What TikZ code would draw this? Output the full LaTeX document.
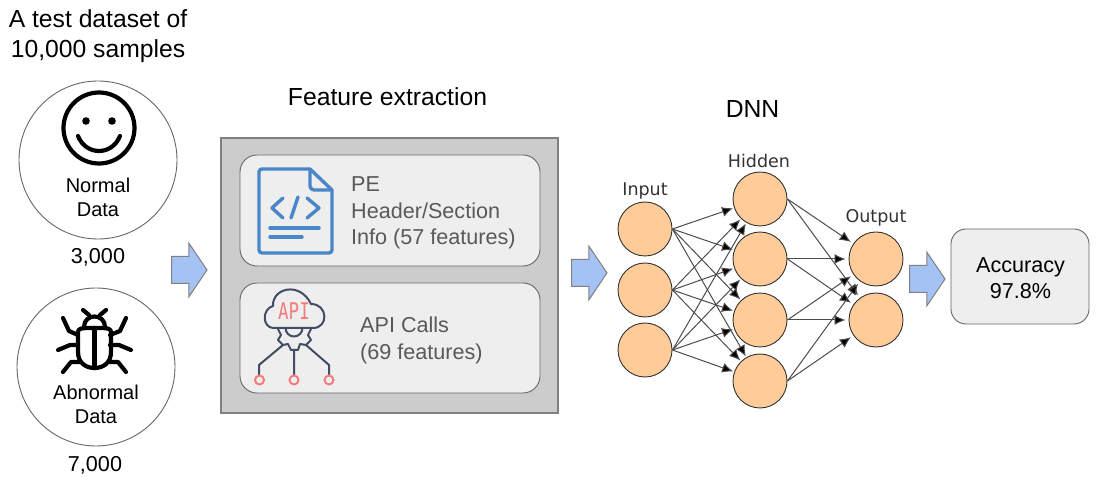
\documentclass[tikz,border=0pt]{standalone}
\usepackage{fontspec}
\setmainfont{Liberation Sans}
\newfontfamily\netfont{DejaVu Sans}
\newfontfamily\apifont{DejaVu Sans Mono}
\usetikzlibrary{arrows.meta,shapes.arrows}
\definecolor{boxgray}{HTML}{CCCCCC}
\definecolor{panelgray}{HTML}{EEEEEE}
\definecolor{textgray}{HTML}{595959}
\definecolor{arrowblue}{HTML}{A4C2F4}
\definecolor{docblue}{HTML}{4A86C8}
\definecolor{apidark}{HTML}{434C66}
\definecolor{apipink}{HTML}{F47C7C}
\definecolor{neuronfill}{HTML}{FFCC99}
\tikzset{
    bigtext/.style={font=\fontsize{24.7}{30}\selectfont, align=center},
    midtext/.style={font=\fontsize{21.6}{26.5}\selectfont, align=center},
    smalltext/.style={font=\fontsize{20}{24}\selectfont, align=center},
    paneltext/.style={font=\fontsize{21.6}{26.5}\selectfont, align=left, text=textgray, anchor=west, inner sep=0pt},
    netlabel/.style={font=\netfont\fontsize{17.5}{20}\selectfont, text=black!80},
    datacircle/.style={circle, draw=black!60, line width=0.9pt, minimum size=158pt, inner sep=0pt},
    panel/.style={draw=black!60, fill=panelgray, line width=0.9pt, rounded corners=17pt, inner sep=0pt},
    blockarrow/.style={single arrow, draw=black!50, fill=arrowblue, line width=1pt, anchor=tail, minimum height=35.5pt, minimum width=53pt,
        single arrow head extend=13.5pt, single arrow tip angle=112, single arrow head indent=0pt, inner sep=0pt},
    neuron/.style={circle, draw=black!80, fill=neuronfill, minimum size=54pt, inner sep=0pt, line width=0.9pt},
    netarrow/.style={-{Latex[length=11pt,width=10pt,fill=black]}, draw=black!70, line width=1pt},
    iconline/.style={line width=4.2pt, line cap=round, line join=round},
    bugline/.style={line width=4.2pt, line cap=round, line join=round},
    docline/.style={docblue, line width=3.4pt, line cap=round, line join=round},
    apiline/.style={apidark, line width=2pt, line cap=round, line join=round},
}
\begin{document}
\begin{tikzpicture}[x=1pt, y=-1pt]
    \useasboundingbox (0,0) rectangle (1096,478);

    % Titles
    \node[bigtext] (title) at (98,36) {A test dataset of\\10,000 samples};
    \node[bigtext] (feattitle) at (387.5,97) {Feature extraction};
    \node[bigtext] (dnntitle) at (752.5,109) {DNN};

    % Data circles
    \node[datacircle] (normal) at (98,160) {};
    \node[datacircle] (abnormal) at (96,367) {};
    \node[smalltext] (normaltext) at (98,197) {Normal\\Data};
    \node[smalltext] (abnormaltext) at (96,404) {Abnormal\\Data};
    \node[midtext] (normalcount) at (98,257.5) {3,000};
    \node[midtext] (abnormalcount) at (95,465.5) {7,000};

    % Smiley
    \draw[iconline] (99,128) circle (35.5);
    \fill (86,121) circle (3.8) (112,121) circle (3.8);
    \draw[iconline] (78,136) .. controls (86,156) and (112,156) .. (120,136);

    % Bug
    \draw[bugline] (78,332) .. controls (78,328) and (82,328) .. (94.5,328)
        .. controls (107,328) and (111,328) .. (111,332) -- (111,352)
        .. controls (111,363) and (103,368) .. (94.5,368) .. controls (86,368) and (78,363) .. (78,352) -- cycle;
    \draw[bugline] (94.5,328) -- (94.5,368);
    \draw[bugline] (84,327) .. controls (84,313) and (105,313) .. (105,327);
    \draw[bugline] (83,310) -- (89,315) (106,310) -- (100,315);
    \draw[bugline] (63,318) -- (69,331) -- (78,335) (126,318) -- (120,331) -- (110,335);
    \draw[bugline] (58,350) -- (70,345) -- (78,345) (131,350) -- (119,345) -- (110,345);
    \draw[bugline] (63,372) -- (71,362) -- (80,362) (126,372) -- (118,362) -- (109,362);

    % Block arrows
    \node[blockarrow] (arrowa) at (171,270) {\rule{0pt}{26pt}};
    \node[blockarrow] (arrowb) at (571,273) {\rule{0pt}{26pt}};
    \node[blockarrow] (arrowc) at (909,279) {\rule{0pt}{26pt}};

    % Feature extraction box
    \draw[draw=black!50, fill=boxgray, line width=1.2pt] (221,138) rectangle (558,413);
    \draw[panel] (240,155) rectangle (540,266);
    \draw[panel] (240,283) rectangle (540,393);
    \node[paneltext] (petext) at (351,213) {PE\\Header/Section\\Info (57 features)};
    \node[paneltext] (apitext) at (360,340.5) {API Calls\\(69 features)};

    % Document icon
    \draw[docline, rounded corners=3pt] (310,169) -- (259,169) -- (259,253) -- (332,253) -- (332,190);
    \draw[docline] (332,190) -- (310,169);
    \draw[docline, rounded corners=4pt] (310,169) -- (310,190) -- (332,190);
    \draw[docline] (283,198) -- (272,208) -- (283,218) (307,198) -- (319,208) -- (307,218);
    \draw[docline] (298,197) -- (291,218);
    \draw[docline] (270,228) -- (319,228) (270,237) -- (302,237);

    % API icon
    \draw[apiline] (273,328) .. controls (262,327) and (262,309) .. (273,306)
        .. controls (272,288) and (300,281) .. (311,304)
        .. controls (328,304) and (329,328) .. (313,328) -- cycle;
    \node[font=\apifont\fontsize{23}{25}\selectfont, text=apipink, xscale=0.76, transform shape, inner sep=0pt] (apiword) at (294,311) {API};
    \draw[apiline] (285.5,328) arc (180:0:8.5);
    \draw[apiline] (278,329) -- (281,335) -- (278,340) -- (283,345) -- (288,344) -- (291,350) -- (298,350) -- (300,344) -- (306,345) -- (311,340) -- (308,335) -- (311,329);
    \draw[apiline] (294,350) -- (294,375)
        (283,345) -- (259,365) -- (259,375) (306,345) -- (329,365) -- (329,375);
    \foreach \x in {259.5,294,329}
        \draw[apipink, line width=2pt] (\x,380) circle (4.5);

    % Network
    \foreach \i/\y in {1/229,2/290,3/350}
        \node[neuron] (i\i) at (645,\y) {};
    \foreach \i/\y in {1/199,2/259,3/320,4/381}
        \node[neuron] (h\i) at (760,\y) {};
    \foreach \i/\y in {1/259,2/320}
        \node[neuron] (o\i) at (876,\y) {};
    \node[netlabel] (inputlabel) at (645,191) {Input};
    \node[netlabel] (hiddenlabel) at (759,161) {Hidden};
    \node[netlabel] (outputlabel) at (876,218) {Output};
    \foreach \a in {1,2,3}
        \foreach \b in {1,2,3,4}
            \draw[netarrow, shorten >=1pt] (i\a.east) -- (h\b);
    \foreach \a in {1,2,3,4}
        \foreach \b in {1,2}
            \draw[netarrow, shorten >=3pt] (h\a.east) -- (o\b);

    % Result
    \node[panel, rounded corners=15pt, minimum width=138pt, minimum height=95pt] (result) at (1020,276.5) {};
    \node[midtext] (resulttext) at (1020.5,278) {Accuracy\\97.8\%};
\end{tikzpicture}
\end{document}
